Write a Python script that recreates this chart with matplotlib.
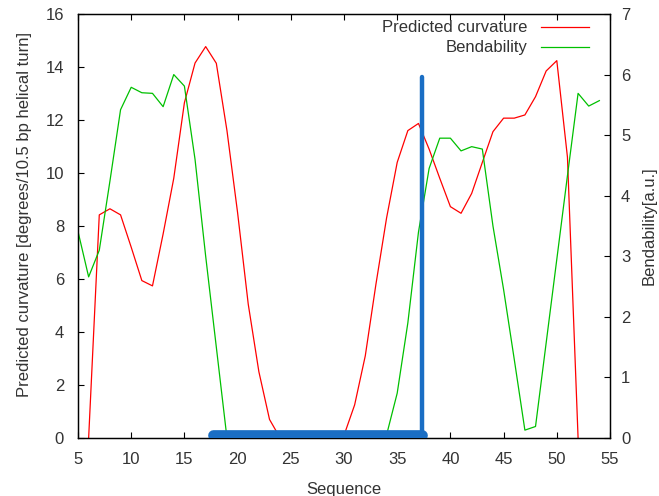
import matplotlib
matplotlib.use("Agg")
import matplotlib.pyplot as plt

# curvature (left axis), sequence positions 6..52
curv_x = list(range(6, 53))
curv_y = [0.0, 8.42, 8.65, 8.42, 7.2, 5.94, 5.74, 7.7, 9.8, 12.65,
          14.15, 14.77, 14.14, 11.6, 8.5, 5.05, 2.5, 0.7, 0.0, 0.0,
          0.0, 0.0, 0.0, 0.0, 0.1, 1.25, 3.1, 5.8, 8.3, 10.4,
          11.6, 11.87, 10.9, 9.8, 8.73, 8.48, 9.23, 10.4, 11.56, 12.07,
          12.07, 12.19, 12.88, 13.85, 14.24, 10.6, 0.0]

# bendability (right axis), sequence positions 5..54
bend_x = list(range(5, 55))
bend_y = [3.41, 2.66, 3.1, 4.24, 5.42, 5.79, 5.70, 5.69, 5.47, 6.0,
          5.81, 4.6, 3.0, 1.5, 0.0, 0.0, 0.0, 0.0, 0.0, 0.0,
          0.0, 0.0, 0.0, 0.0, 0.0, 0.0, 0.0, 0.0, 0.0, 0.05,
          0.74, 1.9, 3.4, 4.45, 4.95, 4.95, 4.74, 4.81, 4.77, 3.5,
          2.45, 1.3, 0.13, 0.19, 1.57, 2.95, 4.33, 5.69, 5.48, 5.57]

# highlighted region marker (right axis units)
region_x = [17.7, 37.35]
region_y = [0.045, 0.045]
mark_x = [37.35, 37.35]
mark_y = [0.045, 5.96]

xticks = list(range(5, 56, 5))
yticks = list(range(0, 17, 2))
y2ticks = list(range(0, 8))

plt.rcParams["font.family"] = ["Liberation Sans", "DejaVu Sans"]
plt.rcParams["font.size"] = 12
txtcol = "#333333"

fig = plt.figure(figsize=(6.59, 4.96), dpi=100)
ax = fig.add_axes([78 / 659, 1 - 438 / 496, 532 / 659, 424 / 496])
ax2 = ax.twinx()

ax.plot(curv_x, curv_y, color="#ff0000", lw=0.9, label="Predicted curvature")
ax2.plot(bend_x, bend_y, color="#00c000", lw=0.9, label="Bendability")
ax2.plot(region_x, region_y, color="#1a6ec4", lw=7.7, solid_capstyle="round", zorder=5)
ax2.plot(mark_x, mark_y, color="#1a6ec4", lw=3.2, solid_capstyle="round", zorder=5)

ax.set_xlim(5, 55)
ax.set_ylim(0, 16)
ax2.set_ylim(0, 7)
ax.set_xticks(xticks)
ax.set_yticks(yticks)
ax2.set_yticks(y2ticks)

ax.tick_params(axis="x", direction="in", top=True, bottom=True, length=4.3,
               pad=10, labelcolor=txtcol)
ax.tick_params(axis="y", direction="in", left=True, right=False, length=4.3,
               pad=10, labelcolor=txtcol)
ax2.tick_params(axis="y", direction="in", right=True, length=4.3,
                pad=8, labelcolor=txtcol)

for a in (ax, ax2):
    for s in a.spines.values():
        s.set_linewidth(0.9)

ax.set_xlabel("Sequence", color=txtcol)
ax.xaxis.set_label_coords(0.5, -0.104)
ax.set_ylabel("Predicted curvature [degrees/10.5 bp helical turn]", color=txtcol)
ax.yaxis.set_label_coords(-0.087, 0.527)
ax2.set_ylabel("Bendability[a.u.]", color=txtcol)
ax2.yaxis.set_label_coords(1.06, 0.5)

h1, l1 = ax.get_legend_handles_labels()
h2, l2 = ax2.get_legend_handles_labels()
leg = ax2.legend(h1 + h2, l1 + l2, loc="upper right", bbox_to_anchor=(0.961, 0.985),
                 frameon=False, markerfirst=False, handlelength=2.9,
                 handletextpad=0.8, labelspacing=0.3, borderaxespad=0, borderpad=0)
for t in leg.get_texts():
    t.set_color(txtcol)

fig.savefig("out.png", dpi=100)
